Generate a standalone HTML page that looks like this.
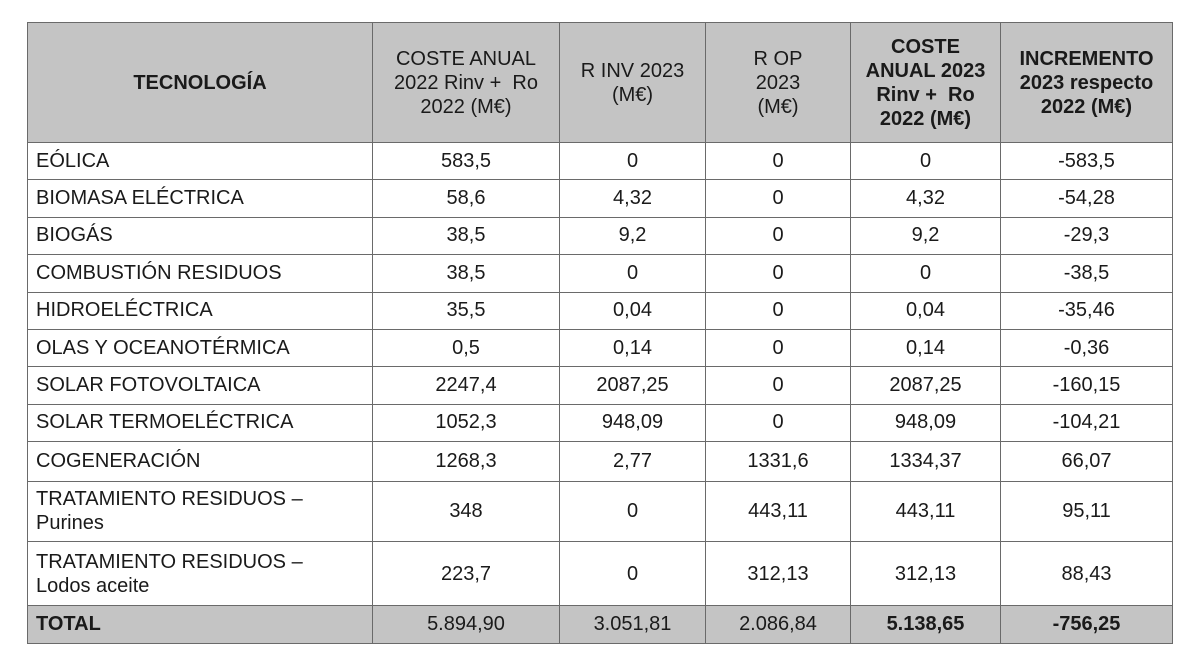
<!DOCTYPE html>
<html><head><meta charset="utf-8"><style>
html,body{margin:0;padding:0;background:#fff;width:1200px;height:661px;overflow:hidden}
table{position:absolute;left:27px;top:22px;border-collapse:collapse;font-family:"Liberation Sans",Arial,sans-serif;font-size:20px;color:#1a1a1a;table-layout:fixed}
td,th{border:1.5px solid #6a6a6a;padding:0 8px;text-align:center;line-height:23px}
th{background:#c4c4c4;font-weight:normal;height:119px;line-height:24px}
th.b{font-weight:bold}
td:first-child{text-align:left}
tr.r td{height:36.4px}
tr.c td{height:38.5px}
tr.tall td{height:59.5px;line-height:24px}
tr.tot td{background:#c4c4c4;height:37px}
</style></head><body>
<table>
<colgroup><col style="width:345px"><col style="width:187px"><col style="width:146px"><col style="width:145px"><col style="width:150px"><col style="width:172px"></colgroup>
<tr><th class="b">TECNOLOGÍA</th><th>COSTE ANUAL 2022 Rinv + &nbsp;Ro 2022 (M€)</th><th>R INV 2023 (M€)</th><th>R OP<br>2023<br>(M€)</th><th class="b">COSTE ANUAL 2023 Rinv + &nbsp;Ro 2022 (M€)</th><th class="b">INCREMENTO 2023 respecto 2022 (M€)</th></tr>
<tr class="r"><td>EÓLICA</td><td>583,5</td><td>0</td><td>0</td><td>0</td><td>-583,5</td></tr>
<tr class="r"><td>BIOMASA ELÉCTRICA</td><td>58,6</td><td>4,32</td><td>0</td><td>4,32</td><td>-54,28</td></tr>
<tr class="r"><td>BIOGÁS</td><td>38,5</td><td>9,2</td><td>0</td><td>9,2</td><td>-29,3</td></tr>
<tr class="r"><td>COMBUSTIÓN RESIDUOS</td><td>38,5</td><td>0</td><td>0</td><td>0</td><td>-38,5</td></tr>
<tr class="r"><td>HIDROELÉCTRICA</td><td>35,5</td><td>0,04</td><td>0</td><td>0,04</td><td>-35,46</td></tr>
<tr class="r"><td>OLAS Y OCEANOTÉRMICA</td><td>0,5</td><td>0,14</td><td>0</td><td>0,14</td><td>-0,36</td></tr>
<tr class="r"><td>SOLAR FOTOVOLTAICA</td><td>2247,4</td><td>2087,25</td><td>0</td><td>2087,25</td><td>-160,15</td></tr>
<tr class="r"><td>SOLAR TERMOELÉCTRICA</td><td>1052,3</td><td>948,09</td><td>0</td><td>948,09</td><td>-104,21</td></tr>
<tr class="c"><td>COGENERACIÓN</td><td>1268,3</td><td>2,77</td><td>1331,6</td><td>1334,37</td><td>66,07</td></tr>
<tr class="tall"><td>TRATAMIENTO RESIDUOS –<br>Purines</td><td>348</td><td>0</td><td>443,11</td><td>443,11</td><td>95,11</td></tr>
<tr class="tall"><td style="height:63px">TRATAMIENTO RESIDUOS –<br>Lodos aceite</td><td>223,7</td><td>0</td><td>312,13</td><td>312,13</td><td>88,43</td></tr>
<tr class="tot"><td><b>TOTAL</b></td><td>5.894,90</td><td>3.051,81</td><td>2.086,84</td><td><b>5.138,65</b></td><td><b>-756,25</b></td></tr>
</table>
</body></html>
